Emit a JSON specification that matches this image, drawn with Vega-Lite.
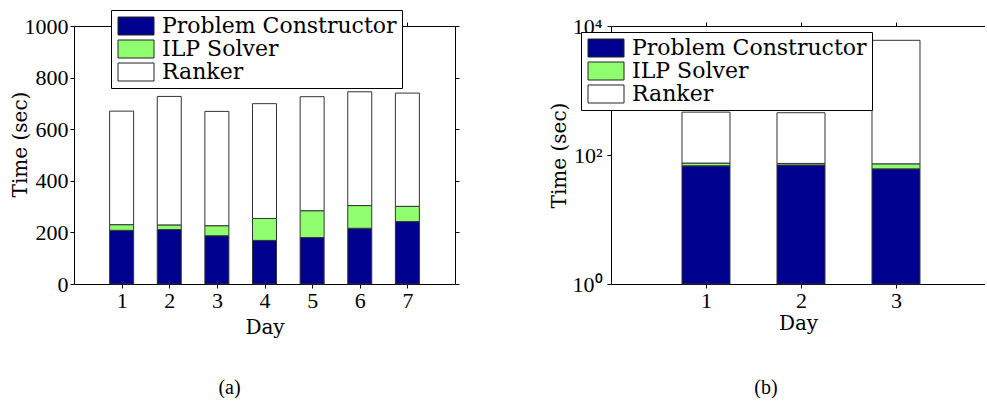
{
  "$schema": "https://vega.github.io/schema/vega-lite/v6.json",
  "background": "white",
  "padding": {"left": 10, "top": 9, "right": 0, "bottom": 0},
  "config": {
    "view": {"stroke": null},
    "axis": {
      "grid": false,
      "domainColor": "black",
      "domainWidth": 1,
      "tickColor": "black",
      "tickSize": 4,
      "labelFont": "Liberation Serif",
      "labelFontSize": 22,
      "labelColor": "black",
      "labelPadding": 2,
      "titleFont": "DejaVu Serif",
      "titleFontSize": 20,
      "titleFontWeight": "normal",
      "titleColor": "black"
    },
    "legend": {
      "orient": "none",
      "title": null,
      "symbolType": "M-1,-1H3V1H-1Z",
      "symbolSize": 324,
      "symbolStrokeColor": "#222",
      "symbolStrokeWidth": 1,
      "symbolOpacity": 1,
      "labelFont": "DejaVu Serif",
      "labelFontSize": 22,
      "labelColor": "black",
      "labelOffset": 24,
      "labelLimit": 400,
      "fillColor": "white",
      "strokeColor": "black",
      "padding": 5,
      "rowPadding": 1
    },
    "title": {"font": "Liberation Serif", "fontSize": 20, "fontWeight": "normal", "color": "black"}
  },
  "datasets": {
    "a": [
      {"day": 1, "component": "Problem Constructor", "rank": 1, "value": 208},
      {"day": 1, "component": "ILP Solver", "rank": 2, "value": 22},
      {"day": 1, "component": "Ranker", "rank": 3, "value": 440},
      {"day": 2, "component": "Problem Constructor", "rank": 1, "value": 211},
      {"day": 2, "component": "ILP Solver", "rank": 2, "value": 18},
      {"day": 2, "component": "Ranker", "rank": 3, "value": 498},
      {"day": 3, "component": "Problem Constructor", "rank": 1, "value": 187},
      {"day": 3, "component": "ILP Solver", "rank": 2, "value": 39},
      {"day": 3, "component": "Ranker", "rank": 3, "value": 443},
      {"day": 4, "component": "Problem Constructor", "rank": 1, "value": 169},
      {"day": 4, "component": "ILP Solver", "rank": 2, "value": 85},
      {"day": 4, "component": "Ranker", "rank": 3, "value": 445},
      {"day": 5, "component": "Problem Constructor", "rank": 1, "value": 180},
      {"day": 5, "component": "ILP Solver", "rank": 2, "value": 104},
      {"day": 5, "component": "Ranker", "rank": 3, "value": 442},
      {"day": 6, "component": "Problem Constructor", "rank": 1, "value": 216},
      {"day": 6, "component": "ILP Solver", "rank": 2, "value": 88},
      {"day": 6, "component": "Ranker", "rank": 3, "value": 441},
      {"day": 7, "component": "Problem Constructor", "rank": 1, "value": 242},
      {"day": 7, "component": "ILP Solver", "rank": 2, "value": 59},
      {"day": 7, "component": "Ranker", "rank": 3, "value": 439}
    ],
    "b": [
      {"day": 1, "component": "Problem Constructor", "start": 1, "end": 68},
      {"day": 1, "component": "ILP Solver", "start": 68, "end": 75},
      {"day": 1, "component": "Ranker", "start": 75, "end": 462},
      {"day": 2, "component": "Problem Constructor", "start": 1, "end": 70},
      {"day": 2, "component": "ILP Solver", "start": 70, "end": 74},
      {"day": 2, "component": "Ranker", "start": 74, "end": 452},
      {"day": 3, "component": "Problem Constructor", "start": 1, "end": 61},
      {"day": 3, "component": "ILP Solver", "start": 61, "end": 73},
      {"day": 3, "component": "Ranker", "start": 73, "end": 6000}
    ]
  },
  "resolve": {"scale": {"color": "independent"}, "legend": {"color": "independent"}},
  "spacing": 89,
  "hconcat": [
    {
      "width": 381,
      "height": 258,
      "title": {"text": "(a)", "orient": "bottom", "anchor": "middle", "dx": -35, "offset": 41},
      "data": {"name": "a"},
      "layer": [
        {
          "mark": {"type": "bar", "size": 24, "stroke": "#333", "strokeWidth": 1},
          "encoding": {
            "x": {"field": "day", "type": "quantitative", "scale": {"domain": [0, 8], "nice": false, "zero": false, "padding": 0},
                  "axis": {"orient": "bottom", "values": [1, 2, 3, 4, 5, 6, 7], "title": "Day", "titlePadding": 6}},
            "y": {"field": "value", "type": "quantitative", "stack": "zero", "scale": {"domain": [0, 1000], "nice": false},
                  "axis": {"orient": "left", "values": [0, 200, 400, 600, 800, 1000], "format": "d", "title": "Time (sec)", "titleX": -44, "titleY": 118, "titleBaseline": "bottom"}},
            "color": {"field": "component", "type": "nominal",
                      "scale": {"domain": ["Problem Constructor", "ILP Solver", "Ranker"], "range": ["#00008F", "#8FFF70", "#FFFFFF"]},
                      "legend": {"legendX": 37, "legendY": -16}},
            "order": {"field": "rank", "type": "quantitative"}
          }
        },
        {
          "mark": {"type": "point", "opacity": 0},
          "encoding": {
            "x": {"field": "day", "type": "quantitative", "scale": {"domain": [0, 8], "nice": false, "zero": false, "padding": 0},
                  "axis": {"orient": "top", "values": [1, 2, 3, 4, 5, 6, 7], "labels": false, "title": null}},
            "y": {"field": "value", "type": "quantitative", "scale": {"domain": [0, 1000], "nice": false},
                  "axis": {"orient": "right", "values": [0, 200, 400, 600, 800, 1000], "labels": false, "title": null}}
          }
        }
      ],
      "resolve": {"axis": {"x": "independent", "y": "independent"}}
    },
    {
      "width": 374,
      "height": 258,
      "title": {"text": "(b)", "orient": "bottom", "anchor": "middle", "dx": -32, "offset": 45},
      "data": {"name": "b"},
      "layer": [
        {
          "mark": {"type": "bar", "size": 48, "stroke": "#333", "strokeWidth": 1},
          "encoding": {
            "x": {"field": "day", "type": "quantitative", "scale": {"domain": [0, 3.937], "nice": false, "zero": false, "padding": 0},
                  "axis": {"orient": "bottom", "values": [1, 2, 3], "title": "Day", "titlePadding": 2}},
            "y": {"field": "end", "type": "quantitative", "scale": {"type": "log", "domain": [1, 10000], "nice": false},
                  "axis": {"orient": "left", "values": [1, 100, 10000], "labelPadding": 5,
                           "labelExpr": "datum.value == 1 ? '10⁰' : datum.value == 100 ? '10²' : '10⁴'",
                           "title": "Time (sec)", "titleX": -42, "titleBaseline": "bottom"}},
            "y2": {"field": "start"},
            "color": {"field": "component", "type": "nominal",
                      "scale": {"domain": ["Problem Constructor", "ILP Solver", "Ranker"], "range": ["#00008F", "#8FFF70", "#FFFFFF"]},
                      "legend": {"legendX": -30, "legendY": 6}}
          }
        },
        {
          "mark": {"type": "point", "opacity": 0},
          "encoding": {
            "x": {"field": "day", "type": "quantitative", "scale": {"domain": [0, 3.937], "nice": false, "zero": false, "padding": 0},
                  "axis": {"orient": "top", "values": [1, 2, 3], "labels": false, "title": null}},
            "y": {"field": "end", "type": "quantitative", "scale": {"type": "log", "domain": [1, 10000], "nice": false}, "axis": null}
          }
        }
      ],
      "resolve": {"axis": {"x": "independent", "y": "independent"}}
    }
  ]
}
